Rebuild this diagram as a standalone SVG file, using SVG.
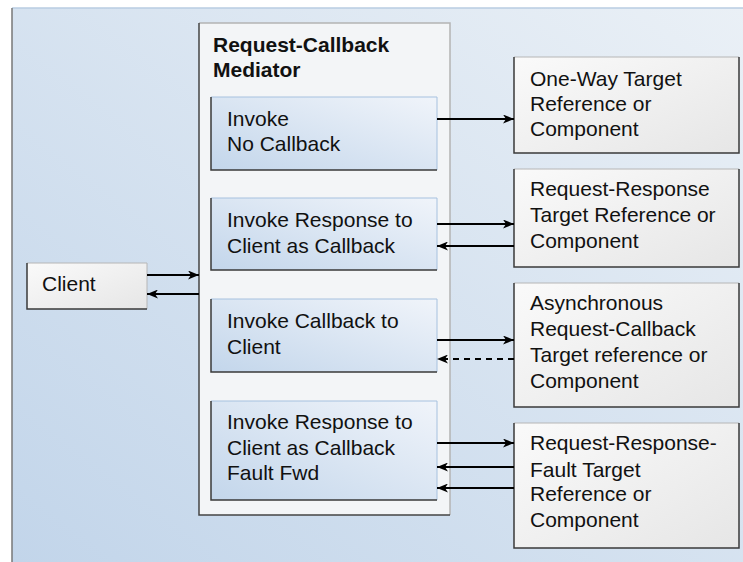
<svg xmlns="http://www.w3.org/2000/svg" width="743" height="562" viewBox="0 0 743 562">
<defs>
<linearGradient id="bg" x1="0" y1="1" x2="1" y2="0">
<stop offset="0" stop-color="#c2d5ea"/>
<stop offset="1" stop-color="#eaf0f6"/>
</linearGradient>
<linearGradient id="blue" x1="0" y1="1" x2="1" y2="0">
<stop offset="0" stop-color="#c3d6eb"/>
<stop offset="1" stop-color="#f0f4fa"/>
</linearGradient>
<linearGradient id="gray" x1="0" y1="0" x2="1" y2="1">
<stop offset="0" stop-color="#fafafa"/>
<stop offset="1" stop-color="#e6e6e6"/>
</linearGradient>
<marker id="ah" viewBox="0 0 11 9" refX="11" refY="4.5" markerWidth="11" markerHeight="9" markerUnits="userSpaceOnUse" orient="auto">
<path d="M0,0 L11,4.5 L0,9 L3,4.5 Z" fill="#000"/>
</marker>
<style>
text{font-family:"Liberation Sans",Arial,sans-serif;font-size:21px;fill:#111}
.title{font-weight:bold}
.light{fill:none;stroke:#b6b6b6;stroke-width:1}
.dark{fill:none;stroke:#3a3a3a;stroke-width:1.5}
.bl{fill:none;stroke:#a6c1df;stroke-width:1}
.conn line{stroke:#000;stroke-width:2;marker-end:url(#ah)}
.conn .dash{stroke-dasharray:6,5}
</style>
</defs>
<g id="background">
<rect x="12" y="8" width="731" height="554" fill="url(#bg)"/>
<path d="M12,8 H743" stroke="#b9cde2" stroke-width="1.5" fill="none"/>
<path d="M12,8 V562" stroke="#777" stroke-width="1.5" fill="none"/>
</g>
<g id="mediator">
<rect x="199" y="23" width="251" height="492" fill="#f3f5f7"/>
<path d="M199,23 H450 V515" stroke="#b4b4b4" stroke-width="1.5" fill="none"/>
<path d="M199,23 V515 H450" stroke="#444" stroke-width="1.5" fill="none"/>
<text class="title" x="213" y="52">Request-Callback</text>
<text class="title" x="213" y="77">Mediator</text>
</g>
<g id="invoke-no-callback">
<rect x="211" y="97" width="226" height="73" fill="url(#blue)"/>
<path class="bl" d="M211,97 H437 V170"/>
<path class="dark" d="M211,97 V170 H437"/>
<text x="227" y="126">Invoke</text>
<text x="227" y="151">No Callback</text>
</g>
<g id="invoke-response-callback">
<rect x="211" y="198" width="226" height="72" fill="url(#blue)"/>
<path class="bl" d="M211,198 H437 V270"/>
<path class="dark" d="M211,198 V270 H437"/>
<text x="227" y="227">Invoke Response to</text>
<text x="227" y="253">Client as Callback</text>
</g>
<g id="invoke-callback-client">
<rect x="211" y="299" width="226" height="73" fill="url(#blue)"/>
<path class="bl" d="M211,299 H437 V372"/>
<path class="dark" d="M211,299 V372 H437"/>
<text x="227" y="328">Invoke Callback to</text>
<text x="227" y="354">Client</text>
</g>
<g id="invoke-response-fault">
<rect x="211" y="401" width="226" height="99" fill="url(#blue)"/>
<path class="bl" d="M211,401 H437 V500"/>
<path class="dark" d="M211,401 V500 H437"/>
<text x="227" y="429">Invoke Response to</text>
<text x="227" y="455">Client as Callback</text>
<text x="227" y="480">Fault Fwd</text>
</g>
<g id="client">
<rect x="27" y="263" width="120" height="46" fill="url(#gray)"/>
<path class="light" d="M27,263 H147 V309"/>
<path class="dark" d="M27,263 V309 H147"/>
<text x="42" y="291">Client</text>
</g>
<g id="one-way-target">
<rect x="514" y="57" width="225" height="96" fill="url(#gray)"/>
<path class="light" d="M514,57 H739"/>
<path class="dark" d="M514,57 V153 H739 V57"/>
<text x="530" y="86">One-Way Target</text>
<text x="530" y="111">Reference or</text>
<text x="530" y="136">Component</text>
</g>
<g id="request-response-target">
<rect x="514" y="169" width="225" height="98" fill="url(#gray)"/>
<path class="light" d="M514,169 H739"/>
<path class="dark" d="M514,169 V267 H739 V169"/>
<text x="530" y="196">Request-Response</text>
<text x="530" y="222">Target Reference or</text>
<text x="530" y="248">Component</text>
</g>
<g id="async-target">
<rect x="514" y="283" width="225" height="124" fill="url(#gray)"/>
<path class="light" d="M514,283 H739"/>
<path class="dark" d="M514,283 V407 H739 V283"/>
<text x="530" y="310">Asynchronous</text>
<text x="530" y="336">Request-Callback</text>
<text x="530" y="362">Target reference or</text>
<text x="530" y="388">Component</text>
</g>
<g id="fault-target">
<rect x="514" y="423" width="225" height="125" fill="url(#gray)"/>
<path class="light" d="M514,423 H739"/>
<path class="dark" d="M514,423 V548 H739 V423"/>
<text x="530" y="450">Request-Response-</text>
<text x="530" y="477">Fault Target</text>
<text x="530" y="501">Reference or</text>
<text x="530" y="527">Component</text>
</g>
<g id="connectors" class="conn">
<line x1="147" y1="275" x2="199" y2="275"/>
<line x1="199" y1="294" x2="147" y2="294"/>
<line x1="437" y1="119" x2="514" y2="119"/>
<line x1="437" y1="224" x2="514" y2="224"/>
<line x1="514" y1="246" x2="437" y2="246"/>
<line x1="437" y1="340" x2="514" y2="340"/>
<line class="dash" x1="514" y1="359" x2="437" y2="359"/>
<line x1="437" y1="443" x2="514" y2="443"/>
<line x1="514" y1="467" x2="437" y2="467"/>
<line x1="514" y1="488" x2="437" y2="488"/>
</g>
</svg>
